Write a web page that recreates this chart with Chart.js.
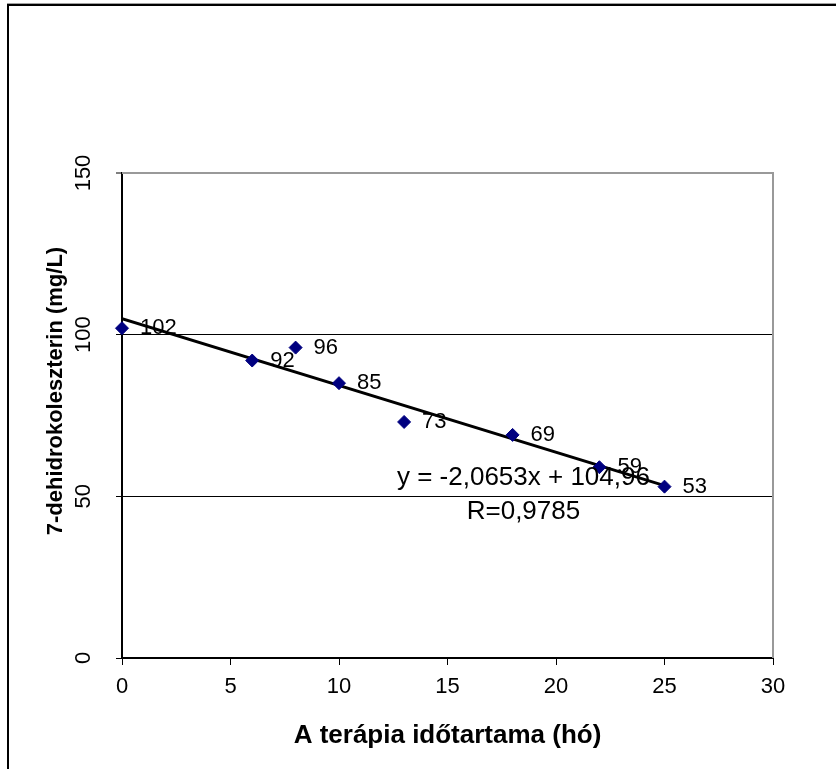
<!DOCTYPE html>
<html>
<head>
<meta charset="utf-8">
<script src="https://cdn.jsdelivr.net/npm/chart.js@4.4.1/dist/chart.umd.min.js"></script>
<style>
  html, body { margin: 0; padding: 0; background: #fff; }
  #wrap { width: 836px; height: 769px; position: relative; }
</style>
</head>
<body>
<div id="wrap"><canvas id="c" width="836" height="769"></canvas></div>
<script>
// ---- data ----
const months = [0, 6, 8, 10, 13, 18, 22, 25];
const values = [102, 92, 96, 85, 73, 69, 59, 53];
const trendX = [0, 25];
const trendY = [104.96, 53.33];
const xTicks = [0, 5, 10, 15, 20, 25, 30];
const yTicks = [0, 50, 100, 150];
const equationText = 'y = -2,0653x + 104,96';
const rText = 'R=0,9785';
const equationPos = [18.5, 55.7];
const rPos = [18.5, 45.2];
const xTitle = 'A terápia időtartama (hó)';
const yTitle = '7-dehidrokoleszterin (mg/L)';

const FONT = "'Liberation Sans', Arial, Helvetica, sans-serif";
Chart.defaults.font.family = FONT;
Chart.defaults.color = '#000';

const decor = {
  id: 'decor',
  beforeDraw(chart) {
    const ctx = chart.ctx;
    ctx.save();
    ctx.fillStyle = '#fff';
    ctx.fillRect(0, 0, chart.width, chart.height);
    // outer frame (left and top)
    ctx.fillStyle = '#a0a0a0';
    ctx.fillRect(7, 3, chart.width, 1);
    ctx.fillStyle = '#000';
    ctx.fillRect(7, 4, chart.width, 2);
    ctx.fillRect(7, 4, 2, chart.height);
    ctx.restore();
  },
  afterDatasetsDraw(chart) {
    const ctx = chart.ctx;
    const a = chart.chartArea;
    const xs = chart.scales.x, ys = chart.scales.y;
    ctx.save();
    // plot frame top & right (gray)
    ctx.strokeStyle = '#999';
    ctx.lineWidth = 2;
    ctx.beginPath();
    ctx.moveTo(a.left, a.top);
    ctx.lineTo(a.right, a.top);
    ctx.lineTo(a.right, a.bottom);
    ctx.stroke();
    // data labels
    const meta = chart.getDatasetMeta(0);
    ctx.fillStyle = '#000';
    ctx.font = '22px ' + FONT;
    ctx.textAlign = 'left';
    ctx.textBaseline = 'middle';
    meta.data.forEach((pt, i) => {
      ctx.fillText(String(values[i]), pt.x + 18, pt.y);
    });
    // equation
    ctx.font = '26px ' + FONT;
    ctx.textAlign = 'center';
    ctx.fillText(equationText, xs.getPixelForValue(equationPos[0]), ys.getPixelForValue(equationPos[1]));
    ctx.fillText(rText, xs.getPixelForValue(rPos[0]), ys.getPixelForValue(rPos[1]));
    ctx.restore();
  }
};

new Chart(document.getElementById('c'), {
  type: 'scatter',
  data: {
    datasets: [
      {
        label: 'adat',
        data: months.map((m, i) => ({ x: m, y: values[i] })),
        pointStyle: 'rectRot',
        pointRadius: 6.5,
        pointHoverRadius: 6.5,
        backgroundColor: '#000080',
        borderColor: '#000080',
        borderWidth: 1,
        clip: false,
        order: 1
      },
      {
        label: 'trend',
        type: 'line',
        data: trendX.map((x, i) => ({ x: x, y: trendY[i] })),
        borderColor: '#000',
        borderWidth: 3,
        pointRadius: 0,
        fill: false,
        order: 2
      }
    ]
  },
  options: {
    responsive: false,
    animation: false,
    events: [],
    layout: { padding: { left: 0, top: 173, right: 63, bottom: 0 } },
    plugins: { legend: { display: false }, tooltip: { enabled: false } },
    scales: {
      x: {
        type: 'linear',
        min: 0, max: 30,
        afterBuildTicks: (s) => { s.ticks = xTicks.map(v => ({ value: v })); },
        afterFit: (s) => { s.height = 111; },
        grid: { drawOnChartArea: false, drawTicks: true, tickLength: 7, tickColor: '#000', tickWidth: 1 },
        border: { display: true, color: '#000', width: 2 },
        ticks: { font: { size: 22 }, padding: 9, color: '#000', maxRotation: 0, minRotation: 0 },
        title: { display: true, text: xTitle, font: { size: 26, weight: 'bold' }, padding: { top: 0, bottom: 18 }, color: '#000' }
      },
      y: {
        type: 'linear',
        min: 0, max: 150,
        afterBuildTicks: (s) => { s.ticks = yTicks.map(v => ({ value: v })); },
        afterFit: (s) => { s.width = 122; },
        grid: {
          drawOnChartArea: true, drawTicks: true, tickLength: 6,
          color: (c) => (c.tick && c.tick.value === 150) ? '#999' : '#000',
          lineWidth: (c) => (c.tick && c.tick.value === 150) ? 2 : 1,
          tickColor: '#000', tickWidth: 1
        },
        border: { display: true, color: '#000', width: 2 },
        ticks: { font: { size: 22 }, padding: 14, color: '#000', minRotation: 90, maxRotation: 90, crossAlign: 'center' },
        title: { display: true, text: '        ' + yTitle, font: { size: 22, weight: 'bold' }, padding: { top: 43, bottom: 0 }, color: '#000' }
      }
    }
  },
  plugins: [decor]
});
</script>
</body>
</html>
